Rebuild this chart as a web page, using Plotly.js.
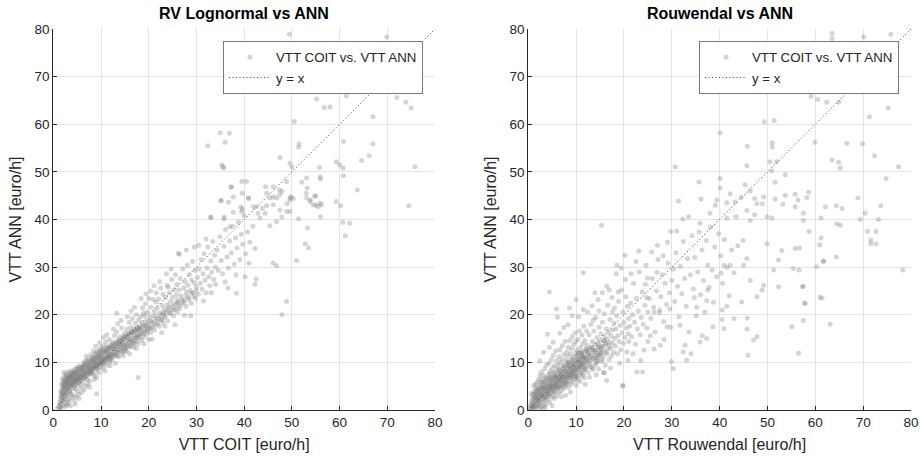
<!DOCTYPE html>
<html>
<head>
<meta charset="utf-8">
<script src="https://cdn.plot.ly/plotly-3.0.1.min.js"></script>
<style>html,body{margin:0;padding:0;background:#fff;}#chart{width:922px;height:457px;}</style>
</head>
<body>
<div id="chart"></div>
<script>
// ---------- DATA ----------
const panelTitles = ["RV Lognormal vs ANN", "Rouwendal vs ANN"];
const xTitles = ["VTT COIT [euro/h]", "VTT Rouwendal [euro/h]"];
const yTitle = "VTT ANN [euro/h]";
const scatterName = "VTT COIT vs. VTT ANN";
const lineName = "y = x";
const identityX = [0, 80];
const identityY = [0, 80];
const tickVals = [0, 10, 20, 30, 40, 50, 60, 70, 80];

// Left panel: RV Lognormal (x) vs ANN (y)
const lnCore = [
[1.1,0.2],[1.2,0.8],[1.3,1.5],[1.4,0.5],[1.5,2.2],[1.5,1.2],[1.6,3.0],[1.6,0.4],[1.7,2.6],[1.7,4.1],[1.8,1.8],[1.8,3.5],[1.9,4.8],[1.9,2.9],[2.0,5.5],[2.0,3.8],[2.0,1.0],[2.1,4.4],[2.1,6.2],[2.2,2.4],[2.2,5.1],[2.3,3.3],[2.3,6.8],[2.4,4.6],[2.4,1.6],[2.5,5.8],[2.5,7.4],[2.5,3.0],[1.9,6.5],[2.2,7.9],[1.7,5.4],[2.4,0.7],[1.6,3.8],[2.0,2.0],[2.3,5.5],
[2.6,4.2],[2.6,6.3],[2.7,2.1],[2.7,5.2],[2.8,7.0],[2.8,3.6],[2.9,6.0],[2.9,4.7],[3.0,8.1],[3.0,5.6],[3.0,1.2],[3.1,3.0],[3.1,6.6],[3.2,4.9],[3.2,7.3],[3.3,5.9],[3.3,2.3],[3.4,6.4],[3.4,4.1],[3.5,7.6],[3.5,5.3],[3.6,0.9],[3.6,6.9],[3.7,3.4],[3.7,5.8],[3.8,7.2],[3.8,6.2],[3.9,4.6],[3.9,8.3],[4.0,6.7],[4.0,2.6],[2.8,1.0],[3.3,1.8],[3.5,3.9],[3.8,5.1],
[4.1,5.6],[4.1,7.4],[4.2,6.3],[4.2,3.1],[4.3,8.0],[4.3,5.0],[4.4,6.9],[4.4,1.9],[4.5,7.6],[4.5,6.0],[4.6,4.4],[4.6,8.6],[4.7,6.5],[4.7,7.1],[4.8,5.4],[4.8,2.8],[4.9,7.9],[4.9,6.3],[5.0,6.9],[5.0,8.8],[5.0,4.0],[5.1,5.8],[5.2,7.4],[5.2,6.6],[5.3,9.2],[5.3,3.3],[5.4,7.0],[5.5,6.1],[5.5,8.2],[5.6,5.2],[5.6,7.6],[5.7,6.8],[5.8,8.7],[5.8,4.6],[5.9,7.2],[6.0,6.4],[6.0,9.0],[5.4,2.4],[4.6,1.2],[5.9,3.7],
[6.1,7.8],[6.2,6.9],[6.2,8.6],[6.3,5.6],[6.4,7.4],[6.4,9.6],[6.5,8.1],[6.6,6.6],[6.6,10.2],[6.7,7.7],[6.8,8.8],[6.8,5.0],[6.9,7.2],[7.0,8.4],[7.0,9.4],[7.1,6.4],[7.2,7.9],[7.2,10.6],[7.3,8.9],[7.4,7.3],[7.5,9.2],[7.5,8.1],[7.6,6.1],[7.7,9.9],[7.7,8.6],[7.8,7.6],[7.9,9.3],[8.0,8.0],[8.0,10.8],[6.5,4.2],[7.3,5.4],[6.9,11.3],[7.8,11.6],[6.3,9.2],[7.6,4.8],
[8.1,9.1],[8.2,8.4],[8.2,10.3],[8.3,7.5],[8.4,9.7],[8.5,11.1],[8.5,8.8],[8.6,10.0],[8.7,7.2],[8.7,9.4],[8.8,11.8],[8.9,10.5],[9.0,9.1],[9.0,8.2],[9.1,10.9],[9.2,9.8],[9.2,12.3],[9.3,8.7],[9.4,10.3],[9.4,11.5],[9.5,9.5],[9.6,7.8],[9.6,10.8],[9.7,12.6],[9.8,9.9],[9.8,11.2],[9.9,8.9],[10.0,10.4],[10.0,13.2],[8.4,12.4],[9.1,6.8],[8.9,13.4],[9.7,14.1],[8.6,6.4],[10.0,11.8],
[10.1,9.6],[10.2,11.1],[10.3,10.2],[10.3,12.6],[10.4,8.8],[10.5,11.4],[10.6,10.6],[10.6,13.5],[10.7,9.9],[10.8,12.0],[10.9,11.0],[11.0,10.3],[11.0,14.2],[11.1,12.4],[11.2,9.4],[11.3,11.6],[11.4,10.8],[11.4,13.1],[11.5,12.0],[11.6,11.2],[11.7,14.8],[11.8,10.1],[11.8,12.6],[11.9,11.5],[12.0,13.6],[10.5,15.2],[11.2,15.8],[11.9,9.3],[10.8,8.2],[12.0,10.9],
[12.1,11.8],[12.2,12.9],[12.3,10.6],[12.4,14.3],[12.5,12.2],[12.6,11.3],[12.7,13.4],[12.8,15.6],[12.9,12.6],[13.0,11.5],[13.1,14.0],[13.2,12.9],[13.3,16.4],[13.4,13.4],[13.5,12.1],[13.6,14.7],[13.7,11.2],[13.8,13.7],[13.9,15.3],[14.0,12.6],[14.1,14.1],[14.2,13.1],[14.3,17.2],[14.4,14.6],[14.5,12.0],[14.6,15.6],[14.7,13.6],[14.8,14.9],[14.9,12.9],[15.0,16.2],[12.6,17.0],[13.5,18.1],[14.2,18.8],[13.0,9.8],[14.6,11.4],
[15.1,14.0],[15.2,13.1],[15.3,15.3],[15.4,12.4],[15.5,17.0],[15.6,14.6],[15.7,13.6],[15.8,16.1],[15.9,18.4],[16.0,14.9],[16.1,13.3],[16.2,15.8],[16.3,17.4],[16.4,14.3],[16.5,16.5],[16.6,19.2],[16.7,15.1],[16.8,13.9],[16.9,17.0],[17.0,15.7],[17.1,14.6],[17.2,18.2],[17.3,16.3],[17.4,20.0],[17.5,15.1],[17.6,17.3],[17.7,13.8],[17.8,16.8],[17.9,18.9],[18.0,15.9],[15.5,19.6],[16.3,20.8],[17.0,21.6],[16.0,11.8],[17.4,12.9],
[18.1,17.4],[18.2,15.2],[18.3,19.6],[18.4,16.6],[18.5,14.6],[18.6,18.2],[18.7,21.4],[18.8,16.0],[18.9,17.8],[19.0,15.4],[19.1,19.8],[19.2,16.9],[19.3,22.3],[19.4,18.5],[19.5,15.9],[19.6,17.6],[19.7,20.6],[19.8,16.6],[19.9,18.8],[20.0,23.4],[18.4,23.4],[19.0,13.9],[20.0,14.8],[19.4,24.4],[18.9,20.3],
[20.2,17.2],[20.3,19.4],[20.4,16.2],[20.5,21.6],[20.6,18.4],[20.8,17.4],[20.9,23.2],[21.0,19.8],[21.2,16.8],[21.3,20.6],[21.4,18.7],[21.6,24.6],[21.7,17.9],[21.8,21.4],[22.0,19.2],[22.1,23.3],[22.2,17.6],[22.4,20.4],[22.5,25.6],[22.6,18.9],[22.8,22.0],[22.9,20.1],[23.0,18.3],[21.1,26.1],[22.3,27.0],[20.7,14.9],[22.7,16.2],[21.5,22.7],[23.0,24.3],[20.4,25.0],
[23.2,21.2],[23.3,19.4],[23.5,23.6],[23.6,20.6],[23.8,26.2],[23.9,22.1],[24.0,18.7],[24.2,21.6],[24.3,24.6],[24.5,20.2],[24.6,22.8],[24.8,27.4],[24.9,21.0],[25.0,23.7],[25.2,19.8],[25.3,25.3],[25.4,22.2],[25.6,28.4],[25.7,21.4],[25.8,24.2],[26.0,20.6],[23.7,28.6],[24.7,29.6],[25.5,17.9],[24.1,25.8],[25.9,26.4],[23.4,17.6],[26.0,23.1],
[26.2,22.6],[26.3,25.2],[26.5,21.3],[26.6,27.6],[26.8,24.0],[27.0,22.3],[27.1,29.6],[27.3,25.6],[27.4,23.1],[27.6,27.0],[27.8,21.8],[27.9,24.8],[28.1,30.4],[28.2,26.2],[28.4,23.6],[28.5,28.4],[28.7,25.1],[28.9,22.4],[29.0,27.3],[29.2,31.2],[29.3,24.6],[29.5,26.7],[29.7,29.3],[29.8,23.4],[30.0,25.9],[26.4,32.7],[27.9,33.6],[28.8,19.8],[29.6,34.2],[27.5,19.9],
[30.2,27.8],[30.4,24.3],[30.6,29.6],[30.8,26.6],[31.0,31.6],[31.2,25.4],[31.4,28.6],[31.6,32.8],[31.8,27.3],[32.0,24.6],[32.2,29.8],[32.4,34.2],[32.6,28.0],[32.8,26.1],[33.0,31.3],[33.2,29.0],[33.4,35.4],[33.6,27.4],[33.8,32.5],[34.0,30.0],[30.5,34.6],[31.5,22.9],[33.1,24.6],[32.0,35.9],[34.0,26.4],
[34.3,33.6],[34.6,29.3],[34.9,36.4],[35.2,31.4],[35.5,28.6],[35.8,34.4],[36.1,37.9],[36.4,32.1],[36.7,29.8],[37.0,35.5],[37.3,33.0],[37.6,38.6],[37.9,30.6],[38.2,36.1],[38.5,34.0],[38.8,39.4],[39.1,31.6],[39.4,36.9],[39.7,34.8],[40.0,40.8],[40.3,32.8],[40.7,37.4],[41.2,35.2],[41.8,38.6],[42.3,33.9],[38.3,28.4],[36.0,26.9],[39.6,42.2],[41.0,30.8],[26.2,32.9]
];
const lnDense = [
[2.2,4.6],[2.5,3.6],[2.7,6.1],[3.0,4.4],[3.2,6.8],[3.5,5.0],[3.7,7.1],[4.0,5.4],[4.3,7.7],[4.4,5.9],[4.7,6.2],[4.9,8.1],[5.2,6.4],[5.4,8.0],[5.6,6.6],[5.9,8.4],[6.1,7.0],[6.4,8.9],[6.6,7.5],[6.9,9.3],[7.1,7.8],[7.4,9.6],[7.6,8.3],[7.9,10.1],[8.1,8.6],[8.3,10.5],[8.6,9.1],[8.8,10.7],[9.1,9.6],[9.3,11.1],[9.6,10.0],[9.8,11.6],[10.1,10.2],[10.4,12.0],[10.6,10.7],[10.9,12.4],[11.2,11.1],[11.5,12.8],[11.7,11.3],[12.1,13.1],[12.4,11.6],[12.7,13.6],[13.0,12.2],[13.3,14.0],[13.6,12.6],[13.9,14.4],[14.2,13.2],[14.5,14.8],[14.8,13.6],[15.1,15.4],[15.4,13.9],[15.7,15.7],[16.0,14.2],[16.3,16.3],[16.6,14.7],[16.9,16.4],[17.2,15.3],[17.5,16.9],[17.8,15.5],[18.1,17.0],[18.4,16.0],[18.7,17.4],[19.0,16.4],[19.3,17.7],[19.6,16.8],[19.9,17.9],[20.3,17.1],[20.7,18.6],[21.1,17.8],[21.5,19.4],[21.9,18.3],[22.3,19.8],[22.7,19.0],[23.1,20.3],[23.5,19.7],[24.0,21.0],[24.4,20.4],[24.9,21.8],[25.4,21.0],[25.9,22.4],[26.4,21.9],[26.9,23.2],[27.4,22.6],[27.9,24.0],[28.4,23.2],[29.0,24.5],[29.5,23.9],[30.0,25.1],
[2.1,3.1],[2.4,5.2],[2.6,3.9],[2.9,6.4],[3.1,4.5],[3.4,6.9],[3.6,5.4],[3.9,7.5],[4.2,5.9],[4.5,8.1],[4.8,6.4],[5.1,8.6],[5.4,6.8],[5.7,9.1],[6.0,7.3],[6.3,9.7],[6.6,7.7],[6.9,10.2],[7.2,8.3],[7.5,10.4],[7.8,8.6],[8.1,11.0],[8.4,9.0],[8.7,11.4],[9.0,9.4],[9.3,11.9],[9.6,9.7],[9.9,12.3],[10.2,10.0],[10.5,12.6],[10.8,10.4],[11.1,13.0],[11.4,10.7],[11.7,13.3],[12.0,11.1],[12.4,13.8],[12.8,11.6],[13.2,14.2],[13.6,12.0],[14.0,14.7],[14.4,12.4],[14.8,15.3],[15.2,12.9],[15.6,15.8],[16.0,13.4],[16.4,16.2],[16.8,14.0],[17.2,16.7],[17.6,14.4],[18.0,17.3],
[2.3,6.0],[2.7,7.4],[3.2,5.6],[3.6,7.9],[4.1,6.6],[4.6,5.3],[5.0,7.6],[5.5,5.9],[6.1,8.3],[6.7,6.9],[7.3,9.7],[7.9,7.9],[8.5,10.2],[9.2,8.8],[9.8,11.0],[10.5,9.6],[11.2,12.2],[11.9,10.4],[12.6,12.9],[13.4,11.3],[14.2,13.9],[15.0,12.3],[15.9,14.8],[16.8,13.2],[17.7,15.6]
];
const lnOutliers = [
[49.5,78.9],[51.4,67.4],[55.2,65.3],[56.8,63.5],[58.0,63.6],[61.4,66.0],[69.9,78.3],[69.5,68.6],[75.1,68.6],[73.9,64.6],[75.0,63.4],[67.0,61.6],[50.5,60.6],[35.0,58.2],[32.4,55.5],[36.0,56.2],[51.5,55.9],[51.4,55.2],[60.8,56.4],[67.0,55.9],[66.2,53.4],[35.6,51.1],[47.5,53.0],[49.6,51.8],[50.0,51.0],[55.8,50.9],[59.3,52.1],[60.0,51.5],[60.7,50.8],[60.8,49.2],[64.6,52.4],[75.8,51.1],[55.9,49.0],[56.0,48.5],[53.1,48.7],[63.7,46.2],[74.5,42.9],[60.2,42.9],[60.7,39.4],[62.1,39.2],[59.3,43.8],[55.9,43.4],[53.9,44.1],[55.0,43.0],[54.8,44.9],[56.0,40.6],[49.6,44.1],[49.8,44.8],[50.3,44.4],[53.2,46.6],[53.0,45.5],[48.9,41.7],[49.0,43.3],[47.4,46.2],[46.1,46.9],[44.7,45.5],[44.5,46.9],[46.1,44.7],[40.5,48.0],[39.6,45.5],[40.9,44.5],[39.3,42.6],[35.1,44.0],[36.7,43.6],[37.2,46.8],[33.0,40.5],[35.8,40.5],[37.7,41.5],[41.9,42.6],[42.9,41.3],[43.8,42.3],[44.7,42.9],[47.9,40.5],[46.8,39.6],[45.4,38.7],
[61.2,36.6],[52.8,34.9],[53.5,34.0],[51.0,31.4],[46.1,30.8],[46.8,30.3],[48.9,22.8],[47.9,20.0],[42.5,27.5],[42.3,26.4],[40.2,28.0],[38.4,24.5],[36.6,25.6],[17.8,6.8],[9.1,3.4],[13.3,20.3],
[36.9,58.1],[72.0,65.6],[52.1,47.8],[48.9,48.0],[47.9,45.9],[49.6,44.5],[46.8,44.5],[53.1,44.5],[53.8,43.8],[55.0,45.0],[54.5,43.1],[55.5,42.7],[56.2,43.1],[53.3,38.2],[51.4,40.1],[49.6,41.7],[47.5,42.0],[44.4,41.3],[43.3,40.3],[42.6,42.7],[40.9,44.4],[39.5,41.7],[39.5,48.0],[37.0,38.5],[37.7,44.7],[35.8,40.1],[46.1,43.1],[47.5,45.2],[45.4,44.5],[35.3,51.5],[35.7,50.8],[37.4,46.8],[35.2,44.0],[33.0,40.4]
];

// Right panel: Rouwendal (x) vs ANN (y)
const rwCore = [
[0.3,0.2],[0.4,1.0],[0.5,0.5],[0.6,1.8],[0.7,0.9],[0.8,2.6],[0.8,0.3],[0.9,1.6],[1.0,3.3],[1.0,0.7],[1.1,2.2],[1.2,4.0],[1.2,1.2],[1.3,2.9],[1.4,0.4],[1.4,3.6],[1.5,1.9],[1.5,4.7],[1.6,2.5],[1.6,5.4],[1.7,1.1],[1.7,3.2],[1.8,4.2],[1.8,0.6],[1.9,2.1],[1.9,5.9],[2.0,3.0],[2.0,1.5],[1.1,5.2],[0.6,3.4],
[2.1,4.4],[2.1,2.4],[2.2,6.4],[2.2,0.8],[2.3,3.4],[2.3,5.1],[2.4,1.8],[2.4,7.2],[2.5,4.0],[2.5,2.9],[2.6,5.7],[2.6,0.5],[2.7,3.6],[2.7,8.0],[2.8,2.2],[2.8,4.8],[2.9,6.4],[2.9,1.4],[3.0,3.9],[3.0,5.3],[3.1,2.7],[3.1,7.3],[3.2,4.4],[3.2,0.9],[3.3,6.0],[3.3,3.2],[3.4,8.6],[3.4,4.9],[3.5,2.0],[3.5,5.6],[3.6,3.7],[3.6,6.8],[3.7,1.3],[3.7,4.3],[3.8,5.2],[3.8,9.4],[3.9,2.8],[3.9,6.2],[4.0,4.6],[4.0,3.4],[2.4,10.3],[3.2,12.1],[3.0,0.3],[3.6,0.6],
[4.1,5.8],[4.1,2.2],[4.2,7.4],[4.2,4.0],[4.3,3.1],[4.3,9.8],[4.4,5.1],[4.4,6.6],[4.5,1.6],[4.5,4.6],[4.6,8.2],[4.6,5.6],[4.7,3.6],[4.7,7.0],[4.8,4.9],[4.8,10.6],[4.9,6.1],[4.9,2.7],[5.0,5.3],[5.0,8.8],[5.1,4.2],[5.1,6.9],[5.2,3.3],[5.2,11.5],[5.3,5.9],[5.3,7.7],[5.4,4.7],[5.4,2.4],[5.5,6.5],[5.5,9.3],[5.6,5.2],[5.6,3.8],[5.7,7.2],[5.7,12.4],[5.8,6.0],[5.8,4.4],[5.9,8.4],[5.9,2.9],[6.0,6.7],[6.0,5.1],[4.4,13.1],[5.2,14.2],[5.0,0.9],[4.0,15.9],[5.9,10.4],
[6.1,7.6],[6.1,4.6],[6.2,9.4],[6.2,5.8],[6.3,3.6],[6.3,7.0],[6.4,11.2],[6.4,6.3],[6.5,8.4],[6.5,4.9],[6.6,6.9],[6.6,12.6],[6.7,5.4],[6.7,9.9],[6.8,7.4],[6.8,3.9],[6.9,8.0],[6.9,6.1],[7.0,10.6],[7.0,5.1],[7.1,7.1],[7.1,13.5],[7.2,6.4],[7.2,8.8],[7.3,4.4],[7.3,7.8],[7.4,11.6],[7.4,5.8],[7.5,9.3],[7.5,6.9],[7.6,4.9],[7.6,8.2],[7.7,14.4],[7.7,6.2],[7.8,10.4],[7.8,7.4],[7.9,5.3],[7.9,8.9],[8.0,6.6],[8.0,12.2],[6.6,16.1],[7.4,17.3],[6.1,19.5],[7.8,3.1],[6.9,2.8],
[8.1,9.6],[8.1,5.7],[8.2,7.8],[8.2,11.3],[8.3,6.8],[8.3,8.6],[8.4,13.2],[8.4,4.8],[8.5,7.2],[8.5,10.1],[8.6,8.0],[8.6,6.1],[8.7,14.6],[8.7,9.2],[8.8,7.5],[8.8,11.8],[8.9,5.4],[8.9,8.6],[9.0,10.6],[9.0,6.9],[9.1,12.8],[9.1,8.1],[9.2,7.2],[9.2,15.4],[9.3,9.6],[9.3,5.9],[9.4,8.4],[9.4,11.2],[9.5,7.6],[9.5,13.7],[9.6,9.0],[9.6,6.4],[9.7,10.3],[9.7,8.0],[9.8,16.2],[9.8,7.0],[9.9,11.9],[9.9,9.4],[10.0,8.3],[10.0,5.2],[8.3,17.9],[9.2,19.8],[8.8,3.8],[9.9,14.4],[8.6,21.4],
[10.1,10.4],[10.1,7.4],[10.2,12.6],[10.2,9.0],[10.3,6.3],[10.3,11.3],[10.4,8.4],[10.4,14.8],[10.5,9.7],[10.5,7.0],[10.6,12.1],[10.6,10.0],[10.7,8.8],[10.7,16.6],[10.8,11.0],[10.8,6.0],[10.9,9.3],[10.9,13.2],[11.0,7.8],[11.0,10.6],[11.1,12.0],[11.1,8.9],[11.2,15.7],[11.2,10.1],[11.3,7.2],[11.3,11.4],[11.4,9.6],[11.4,13.9],[11.5,8.4],[11.5,10.8],[11.6,17.6],[11.6,12.3],[11.7,9.1],[11.7,6.7],[11.8,11.0],[11.8,14.6],[11.9,10.0],[12.0,8.6],[12.0,12.8],[10.5,19.6],[11.5,21.1],[10.0,23.2],[11.9,5.4],
[12.1,11.2],[12.2,9.2],[12.3,13.6],[12.4,10.4],[12.5,7.9],[12.6,12.0],[12.7,15.8],[12.8,11.0],[12.9,9.6],[13.0,13.1],[13.1,18.0],[13.2,11.8],[13.3,8.8],[13.4,14.4],[13.5,10.6],[13.6,12.6],[13.7,16.6],[13.8,11.4],[13.9,9.4],[14.0,13.8],[14.1,19.4],[14.2,12.0],[14.3,10.2],[14.4,15.2],[14.5,11.6],[14.6,13.2],[14.7,8.6],[14.8,17.4],[14.9,12.6],[15.0,14.4],[12.4,20.6],[13.3,21.9],[14.6,23.2],[12.8,6.9],[14.2,7.4],[13.6,18.9],[14.8,20.8],[12.2,16.6],[13.9,24.6],[14.5,10.9],
[15.1,12.0],[15.2,16.0],[15.3,10.2],[15.4,13.4],[15.5,18.4],[15.6,11.2],[15.7,14.6],[15.8,12.6],[15.9,20.2],[16.0,15.4],[16.1,9.4],[16.2,13.8],[16.3,17.0],[16.4,11.8],[16.5,14.8],[16.6,22.0],[16.7,12.8],[16.8,16.2],[16.9,10.6],[17.0,14.2],[17.1,19.0],[17.2,13.0],[17.3,15.6],[17.4,11.4],[17.5,23.6],[17.6,16.8],[17.7,14.0],[17.8,12.2],[17.9,18.2],[18.0,15.0],[15.5,24.6],[16.4,26.0],[17.2,8.8],[18.0,21.4],[15.9,7.9],[16.9,25.2],[17.6,20.6],
[18.2,13.4],[18.3,17.0],[18.5,19.8],[18.6,11.8],[18.7,15.6],[18.9,22.8],[19.0,14.4],[19.2,17.8],[19.3,12.6],[19.5,25.2],[19.6,16.2],[19.8,20.6],[19.9,14.0],[20.0,18.4],[20.2,15.2],[20.3,27.4],[20.5,17.2],[20.6,12.2],[20.7,21.8],[20.9,16.0],[21.0,19.2],[18.4,28.6],[19.4,29.8],[20.8,10.4],[19.1,9.8],[20.4,23.8],[21.0,14.4],[18.8,24.8],[19.7,5.0],
[21.2,17.6],[21.4,22.4],[21.6,15.4],[21.8,20.0],[22.0,26.6],[22.2,18.4],[22.4,13.8],[22.6,23.4],[22.8,17.0],[23.0,20.8],[23.2,29.0],[23.4,15.8],[23.6,19.4],[23.8,24.8],[24.0,18.0],[24.2,12.6],[24.4,22.0],[24.6,30.4],[24.8,17.2],[25.0,20.6],[21.5,28.6],[22.5,31.2],[23.5,10.4],[24.5,26.4],[25.0,14.4],[21.9,11.8],[23.1,33.4],[24.7,23.6],[22.7,8.0],
[25.3,23.4],[25.6,19.2],[25.9,27.6],[26.2,21.6],[26.5,16.4],[26.8,25.0],[27.1,31.6],[27.4,20.4],[27.7,23.8],[28.0,28.4],[28.3,18.6],[28.6,26.6],[28.9,22.2],[29.2,30.8],[29.5,24.6],[29.8,17.4],[30.0,27.2],[25.8,33.2],[27.0,34.6],[28.4,14.8],[29.1,35.2],[26.3,12.8],[27.6,13.6],[29.6,21.2],[26.9,28.9],[28.2,32.4],[25.5,15.6],[29.9,10.2],
[30.3,29.6],[30.6,22.8],[30.9,33.0],[31.2,26.0],[31.5,19.6],[31.8,30.2],[32.1,24.4],[32.4,35.4],[32.7,27.6],[33.0,21.8],[33.3,31.8],[33.6,16.4],[33.9,28.4],[34.2,36.6],[34.5,25.4],[34.8,32.0],[35.1,19.8],[35.4,29.0],[35.7,37.4],[36.0,24.2],[36.3,33.6],[36.6,27.2],[36.9,20.6],[37.2,35.6],[37.5,30.4],[37.8,25.8],[38.1,38.4],[38.4,29.4],[38.7,22.6],[39.0,34.2],[39.4,28.0],[39.8,37.0],[40.2,32.4],[40.6,26.6],[41.0,35.8],[41.5,30.0],[42.0,24.0],[42.5,33.6],[43.0,28.8],[31.0,37.6],[32.8,13.6],[36.4,15.6],[34.0,11.8]
];
const rwDense = [
[1.0,1.4],[1.3,2.6],[1.6,0.8],[1.9,3.8],[2.2,1.9],[2.5,4.6],[2.8,3.0],[3.0,5.9],[3.3,2.3],[3.5,4.2],[3.8,6.6],[4.0,3.6],[4.3,5.3],[4.5,7.6],[4.7,4.3],[5.0,6.2],[5.2,3.9],[5.4,7.9],[5.7,5.5],[5.9,6.9],[6.1,4.6],[6.4,8.6],[6.6,6.1],[6.8,7.4],[7.1,5.4],[7.3,9.3],[7.5,6.8],[7.8,8.1],[8.0,5.9],[8.2,10.0],[8.5,7.6],[8.7,8.9],[8.9,6.6],[9.2,10.7],[9.4,8.2],[9.6,9.6],[9.9,7.3],[10.1,11.4],[10.4,8.8],[10.6,10.3],[10.8,7.9],[11.1,12.1],[11.3,9.5],[11.6,11.0],[11.8,8.5],[12.1,12.6],[12.4,10.1],[12.7,11.6],[13.0,9.1],[13.3,13.2],[13.6,10.8],[13.9,12.3],[14.2,9.8],[14.5,13.9],[14.8,11.4],[15.1,12.9],[15.5,10.6],[15.9,14.6],[16.3,12.1],[16.8,13.6],
[1.5,3.3],[2.0,4.1],[2.4,2.7],[2.9,4.4],[3.4,3.1],[3.9,4.9],[4.4,3.2],[4.9,5.1],[5.3,6.7],[5.8,4.9],[6.3,6.5],[6.7,4.8],[7.2,7.0],[7.7,5.6],[8.1,7.2],[8.6,9.8],[9.0,7.7],[9.5,9.1],[10.0,6.8],[10.5,11.9],[11.0,9.9],[11.5,7.6],[12.0,10.8],[12.5,12.7],[13.0,11.2],[13.5,8.5],[14.0,12.6],[14.5,10.4],[15.0,11.7],[15.5,13.4],
[1.1,0.6],[1.7,2.3],[2.3,1.2],[2.6,3.4],[3.1,4.8],[3.6,2.6],[4.1,4.0],[4.6,6.4],[5.1,4.5],[5.6,7.1],[6.0,5.6],[6.5,7.8],[7.0,6.2],[7.4,8.5],[7.9,6.9],[8.4,9.2],[8.8,7.1],[9.3,9.9],[9.7,8.6],[10.2,10.6],[10.7,9.2],[11.2,11.5],[11.7,10.2],[12.3,11.9],[12.9,10.4],[13.4,12.6],[14.1,11.0],[14.7,13.3],[15.4,12.0],[16.1,14.0]
];
const rwOutliers = [
[63.5,79.1],[63.5,78.0],[70.1,78.3],[75.8,78.9],[76.7,68.8],[66.9,68.6],[60.5,65.2],[58.9,67.9],[59.1,65.9],[52.0,67.4],[47.4,69.2],[62.4,64.6],[64.9,64.6],[75.2,63.4],[71.3,61.6],[49.3,60.5],[51.4,60.8],[40.1,58.2],[51.0,56.1],[51.0,55.2],[45.8,55.4],[59.9,56.2],[66.6,56.0],[69.9,55.9],[72.4,53.4],[77.4,51.1],[63.5,52.5],[64.9,52.0],[65.2,50.8],[30.7,51.1],[35.7,47.9],[40.1,48.6],[40.1,46.6],[45.7,51.3],[50.5,52.1],[51.9,52.1],[53.7,49.4],[50.9,50.2],[51.6,47.8],[74.8,48.6],[55.8,45.3],[58.2,44.6],[56.4,44.1],[58.6,45.7],[68.9,44.5],[73.7,42.9],[64.4,42.9],[65.6,42.3],[62.1,42.7],[61.2,40.3],[57.5,39.8],[57.5,41.3],[69.4,40.0],[73.2,40.0],[65.2,38.8],[70.4,41.3],[55.8,42.7],[53.2,43.2],[53.7,45.1],[51.6,44.3],[49.2,44.7],[48.9,43.3],[50.9,40.3],[49.9,40.6],[47.3,41.0],[47.8,43.3],[45.7,41.9],[46.4,39.8],[43.4,40.6],[41.5,40.3],[43.2,43.7],[44.5,44.6],[42.2,45.4],[46.4,46.0],[47.3,44.4],[45.3,47.3],[39.1,43.0],[39.4,44.1],[41.5,43.5],[36.1,44.3],[31.4,43.9],[32.3,40.1],[33.5,40.6],[38.0,41.3],[35.9,39.2],[15.3,38.8],
[29.8,37.5],[78.3,29.4],[70.9,37.5],[71.6,34.9],[64.5,39.1],[64.4,32.1],[61.7,31.2],[61.0,23.7],[63.1,18.0],[60.3,30.1],[57.5,26.0],[57.7,22.4],[57.5,18.8],[56.5,11.9],[55.1,17.5],[55.4,29.7],[56.6,29.4],[55.8,33.9],[51.3,29.4],[52.3,31.5],[52.3,25.9],[53.0,33.5],[49.9,34.9],[49.2,26.2],[48.9,25.2],[47.8,23.8],[47.8,15.4],[47.1,14.7],[45.7,31.8],[46.4,27.2],[45.8,19.3],[45.7,17.0],[45.9,11.5],[45.0,30.4],[44.6,22.7],[41.5,21.8],[43.0,19.2],[44.9,35.6],[43.8,34.5],[42.2,30.4],[40.9,30.4],[40.3,28.7],[40.5,21.0],[40.5,19.0],[40.9,17.1],[38.6,17.5],[37.3,15.0],[35.9,14.3],[35.2,21.6],[37.3,23.0],[37.5,25.2],[34.7,23.6],[33.1,10.5],[30.3,8.7],[23.9,8.0],[31.7,17.8],[32.4,12.2],[29.0,17.5],[27.5,21.0],[26.3,20.6],[24.9,27.7],[20.2,32.5],[18.5,30.4],[11.5,28.8],[4.4,24.8],[5.9,21.2],[19.8,5.2],[16.4,6.2],[15.7,7.8],
[72.7,34.9],[71.6,35.7],[72.7,37.5],[61.4,23.5],[61.7,31.3],[60.9,34.7],[61.2,36.1],[58.7,37.5],[57.9,22.4],[57.3,25.9],[56.7,34.0]
];

// ---------- BUILD ----------
const lnAll = lnCore.concat(lnDense, lnOutliers);
const rwAll = rwCore.concat(rwDense, rwOutliers);

const FONT = "Liberation Sans, Arial, Helvetica, sans-serif";
const INK = "#262626";
const marker = {color: "rgb(128,128,128)", size: 5, opacity: 0.33, line: {width: 0}};
const idLine = {color: "#3c3c3c", width: 1, dash: "1px,2.5px"};

const traces = [
  {type: "scatter", mode: "markers", name: scatterName, x: lnAll.map(p => p[0]), y: lnAll.map(p => p[1]),
   xaxis: "x", yaxis: "y", marker: marker, legend: "legend", hoverinfo: "skip"},
  {type: "scatter", mode: "lines", name: lineName, x: identityX, y: identityY,
   xaxis: "x", yaxis: "y", line: idLine, legend: "legend"},
  {type: "scatter", mode: "markers", name: scatterName, x: rwAll.map(p => p[0]), y: rwAll.map(p => p[1]),
   xaxis: "x2", yaxis: "y2", marker: marker, legend: "legend2", hoverinfo: "skip"},
  {type: "scatter", mode: "lines", name: lineName, x: identityX, y: identityY,
   xaxis: "x2", yaxis: "y2", line: idLine, legend: "legend2"}
];

const W = 922, H = 457;
function axisBase(extra) {
  return Object.assign({
    range: [0, 80], tickvals: tickVals, ticks: "inside", ticklen: 4, tickcolor: INK,
    showline: true, linecolor: INK, linewidth: 1, mirror: false, zeroline: false,
    showgrid: true, gridcolor: "#e4e4e4", gridwidth: 1, automargin: false,
    tickfont: {family: FONT, size: 13.5, color: INK}, fixedrange: true
  }, extra);
}
const yDom = [1 - 410 / H, 1 - 29 / H];
const legendBase = {
  yanchor: "top", xanchor: "left", y: 1 - 41 / H, bgcolor: "#ffffff",
  bordercolor: "#7a7a7a", borderwidth: 1, font: {family: FONT, size: 13.3, color: INK},
  tracegroupgap: 0, itemclick: false, itemwidth: 42
};
const axTitleFont = {family: FONT, size: 16, color: INK};

const layout = {
  width: W, height: H, margin: {l: 0, r: 0, t: 0, b: 0},
  paper_bgcolor: "#ffffff", plot_bgcolor: "#ffffff",
  font: {family: FONT, color: INK},
  showlegend: true,
  xaxis: axisBase({domain: [53.3 / W, 435 / W], anchor: "y",
    title: {text: xTitles[0], font: axTitleFont, standoff: 9}}),
  yaxis: axisBase({domain: yDom, anchor: "x",
    title: {text: yTitle, font: axTitleFont, standoff: 8}}),
  xaxis2: axisBase({domain: [528.3 / W, 911 / W], anchor: "y2",
    title: {text: xTitles[1], font: axTitleFont, standoff: 9}}),
  yaxis2: axisBase({domain: yDom, anchor: "x2",
    title: {text: yTitle, font: axTitleFont, standoff: 8}}),
  legend: Object.assign({x: 223 / W}, legendBase),
  legend2: Object.assign({x: 699 / W}, legendBase),
  annotations: [
    {text: "<b>" + panelTitles[0] + "</b>", xref: "paper", yref: "paper", x: 244 / W, y: 1 - 14 / H,
     xanchor: "center", yanchor: "middle", showarrow: false, font: {family: FONT, size: 16, color: "#000"}},
    {text: "<b>" + panelTitles[1] + "</b>", xref: "paper", yref: "paper", x: 719.6 / W, y: 1 - 14 / H,
     xanchor: "center", yanchor: "middle", showarrow: false, font: {family: FONT, size: 16, color: "#000"}}
  ]
};

Plotly.newPlot("chart", traces, layout, {staticPlot: true, displayModeBar: false});
</script>
</body>
</html>
